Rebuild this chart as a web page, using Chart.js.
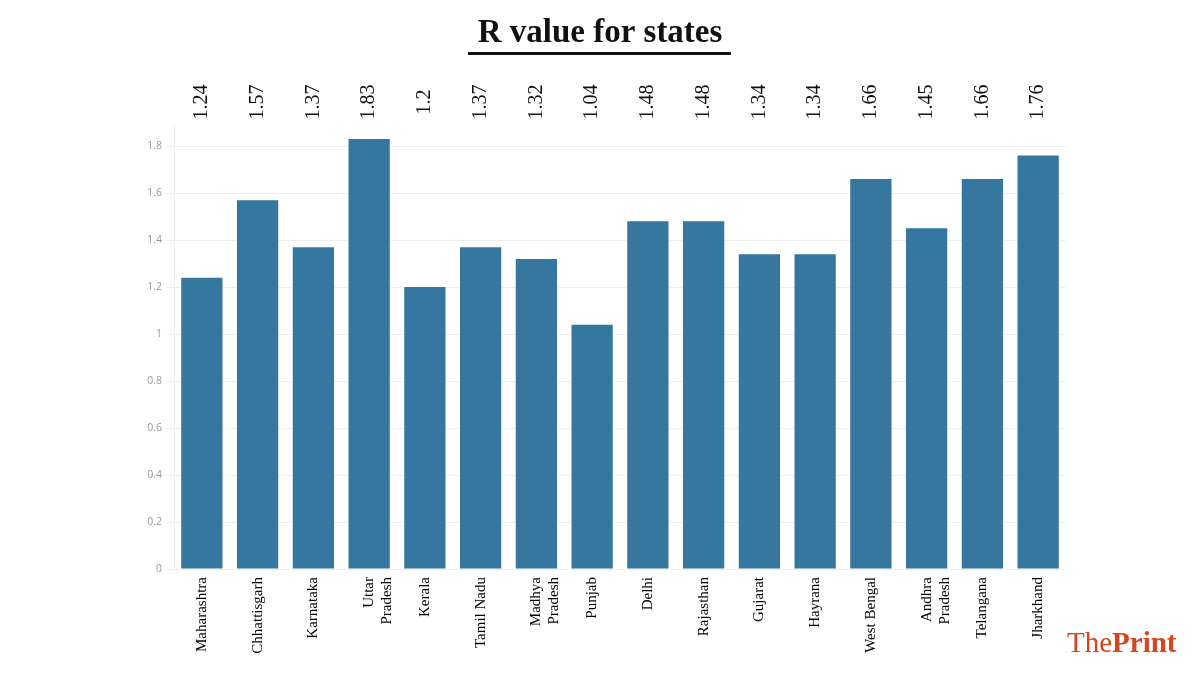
<!DOCTYPE html>
<html><head><meta charset="utf-8">
<script src="https://cdn.jsdelivr.net/npm/chart.js@4.4.0/dist/chart.umd.min.js"></script>
<style>html,body{margin:0;padding:0;background:#fff;}#wrap{width:1200px;height:675px;position:relative;}</style>
</head><body><div id="wrap"><canvas id="c" width="1200" height="675"></canvas></div>
<script>
const categories = [["Maharashtra"],["Chhattisgarh"],["Karnataka"],["Uttar","Pradesh"],["Kerala"],["Tamil Nadu"],["Madhya","Pradesh"],["Punjab"],["Delhi"],["Rajasthan"],["Gujarat"],["Hayrana"],["West Bengal"],["Andhra","Pradesh"],["Telangana"],["Jharkhand"]];
const rValues = [1.24,1.57,1.37,1.83,1.2,1.37,1.32,1.04,1.48,1.48,1.34,1.34,1.66,1.45,1.66,1.76];
const valueLabels = ["1.24","1.57","1.37","1.83","1.2","1.37","1.32","1.04","1.48","1.48","1.34","1.34","1.66","1.45","1.66","1.76"];
const yTickValues = [0,0.2,0.4,0.6,0.8,1,1.2,1.4,1.6,1.8];
const titleText = "R value for states";

const decor = {
  id:'decor',
  afterDraw(chart){
    const ctx = chart.ctx;
    ctx.save();
    // title
    ctx.fillStyle = '#111';
    ctx.font = 'bold 33px "Liberation Serif", serif';
    ctx.textAlign = 'center'; ctx.textBaseline = 'alphabetic';
    ctx.fillText(titleText, 600, 42);
    ctx.fillRect(468, 52, 263, 3);
    // value labels
    const meta = chart.getDatasetMeta(0);
    ctx.font = '20px "Liberation Serif", serif';
    meta.data.forEach((bar,i)=>{
      ctx.save();
      ctx.translate(bar.x, 102);
      ctx.rotate(-Math.PI/2);
      ctx.textAlign='center'; ctx.textBaseline='middle';
      ctx.fillStyle='#111';
      ctx.fillText(valueLabels[i],0,0);
      ctx.restore();
    });
    // logo
    ctx.textAlign='left'; ctx.textBaseline='alphabetic';
    ctx.fillStyle='#d8441c';
    ctx.font='29px "Liberation Serif", serif';
    const w1 = ctx.measureText('The').width;
    ctx.fillText('The',1067,652);
    ctx.font='bold 29px "Liberation Serif", serif';
    ctx.fillText('Print',1067+w1,652);
    ctx.restore();
  }
};

new Chart(document.getElementById('c'),{
  type:'bar',
  data:{labels:categories,datasets:[{data:rValues,backgroundColor:'#35779f',borderWidth:0,barPercentage:0.74,categoryPercentage:1}]},
  options:{
    responsive:false,animation:false,
    layout:{padding:{left:134,right:134,top:125,bottom:0}},
    plugins:{legend:{display:false},tooltip:{enabled:false}},
    scales:{
      x:{
        grid:{display:false},
        border:{display:false},
        ticks:{color:'#000',font:{family:'"Liberation Serif", serif',size:15},maxRotation:90,minRotation:90,padding:0},
        afterFit(s){s.height=106;}
      },
      y:{
        min:0,max:1.89,
        afterBuildTicks(s){s.ticks=yTickValues.map(v=>({value:v}));},
        grid:{color:'#efefef',tickLength:8,drawTicks:true},
        border:{display:true,color:'#efefef'},
        ticks:{color:'#999',font:{family:'"Open Sans", sans-serif',size:10.5},padding:4,callback:v=>String(v)},
        afterFit(s){s.width=40;}
      }
    }
  },
  plugins:[decor]
});
</script></body></html>
